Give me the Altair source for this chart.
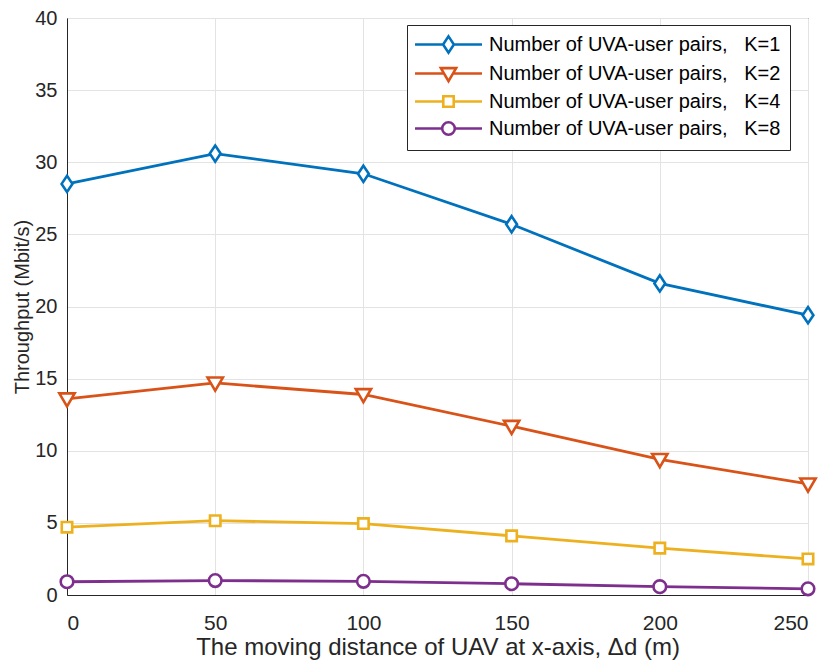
import altair as alt
import pandas as pd

x_vals = [0, 50, 100, 150, 200, 250]
k1 = [28.5, 30.6, 29.2, 25.7, 21.6, 19.4]
k2 = [13.6, 14.7, 13.9, 11.7, 9.4, 7.7]
k4 = [4.7, 5.15, 4.95, 4.1, 3.25, 2.5]
k8 = [0.92, 1.0, 0.95, 0.78, 0.58, 0.43]

NB = "\u00a0"
labels = [
    f"Number of UVA-user pairs,{NB*3}K=1",
    f"Number of UVA-user pairs,{NB*3}K=2",
    f"Number of UVA-user pairs,{NB*3}K=4",
    f"Number of UVA-user pairs,{NB*3}K=8",
]
colors = ["#0072BD", "#D95319", "#EDB120", "#7E2F8E"]

rows = []
for lab, ys in zip(labels, [k1, k2, k4, k8]):
    for xv, yv in zip(x_vals, ys):
        rows.append({"x": xv, "y": yv, "series": lab})
df = pd.DataFrame(rows)

marker_paths = [
    "M0,-0.9L0.6,0L0,0.9L-0.6,0Z",
    "M-0.85,-0.6L0.85,-0.6L0,0.85Z",
    "M-0.58,-0.58H0.58V0.58H-0.58Z",
    "M0.7,0A0.7,0.7 0 1,1 -0.7,0A0.7,0.7 0 1,1 0.7,0Z",
]
legend_paths = [
    "M-3.72,0H-0.6M0.6,0H3.72M0,-0.9L0.6,0L0,0.9L-0.6,0Z",
    "M-3.72,0H-0.5M0.5,0H3.72M-0.85,-0.6L0.85,-0.6L0,0.85Z",
    "M-3.72,0H-0.58M0.58,0H3.72M-0.58,-0.58H0.58V0.58H-0.58Z",
    "M-3.72,0H-0.7M0.7,0H3.72M0.7,0A0.7,0.7 0 1,1 -0.7,0A0.7,0.7 0 1,1 0.7,0Z",
]

FONT = "Liberation Sans"
TXT = "#262626"

base = alt.Chart(df)

color_scale = alt.Scale(domain=labels, range=colors)

xenc = alt.X(
    "x:Q",
    scale=alt.Scale(domain=[0, 250], nice=False),
    axis=alt.Axis(
        values=x_vals,
        title="The moving distance of UAV at x-axis, \u0394d (m)",
        titlePadding=2,
        labelPadding=17,
        labelFontSize=21,
        titleFontSize=24,
    ),
)
yenc = alt.Y(
    "y:Q",
    scale=alt.Scale(domain=[0, 40], nice=False),
    axis=alt.Axis(
        values=list(range(0, 45, 5)),
        title="Throughput (Mbit/s)",
        titlePadding=2,
        labelPadding=10,
        labelFontSize=20,
        titleFontSize=20,
    ),
)

lines = base.mark_line(strokeWidth=2.8).encode(
    x=xenc, y=yenc, color=alt.Color("series:N", scale=color_scale)
)

legend_pts = base.mark_point(size=0, filled=False, strokeWidth=2.6).encode(
    x="x:Q",
    y="y:Q",
    color=alt.Color("series:N", scale=color_scale),
    shape=alt.Shape("series:N", scale=alt.Scale(domain=labels, range=legend_paths)),
)

point_layers = []
for lab, path in zip(labels, marker_paths):
    point_layers.append(
        base.transform_filter(alt.datum.series == lab)
        .mark_point(shape=path, size=324, filled=False, fill="white", fillOpacity=1,
                    strokeWidth=2.6, opacity=1)
        .encode(x="x:Q", y="y:Q", color=alt.Color("series:N", scale=color_scale))
    )

chart = (
    alt.layer(lines, legend_pts, *point_layers)
    .properties(
        width=741,
        height=577,
        padding={"left": 59, "top": 10, "right": 14, "bottom": 67},
        autosize=alt.AutoSizeParams(type="none"),
        background="white",
    )
    .configure_view(stroke=TXT, strokeWidth=1)
    .configure_axis(
        labelFont=FONT,
        titleFont=FONT,
        titleFontWeight="normal",
        labelColor=TXT,
        titleColor=TXT,
        domainColor=TXT,
        gridColor="#e3e3e3",
        gridWidth=1,
        tickSize=0,
        domainWidth=1,
    )
    .configure_legend(
        title=None,
        orient="none",
        legendX=340,
        legendY=7,
        symbolSize=324,
        symbolOffset=22,
        rowPadding=4,
        symbolStrokeWidth=2.6,
        symbolFillColor="white",
        symbolOpacity=1,
        labelFont=FONT,
        labelFontSize=20,
        labelColor="#000000",
        labelOffset=30,
        padding=9,
        strokeColor=TXT,
        fillColor="white",
        labelLimit=400,
    )
)

chart.save("out.html", embed_options={"renderer": "svg", "actions": False})
